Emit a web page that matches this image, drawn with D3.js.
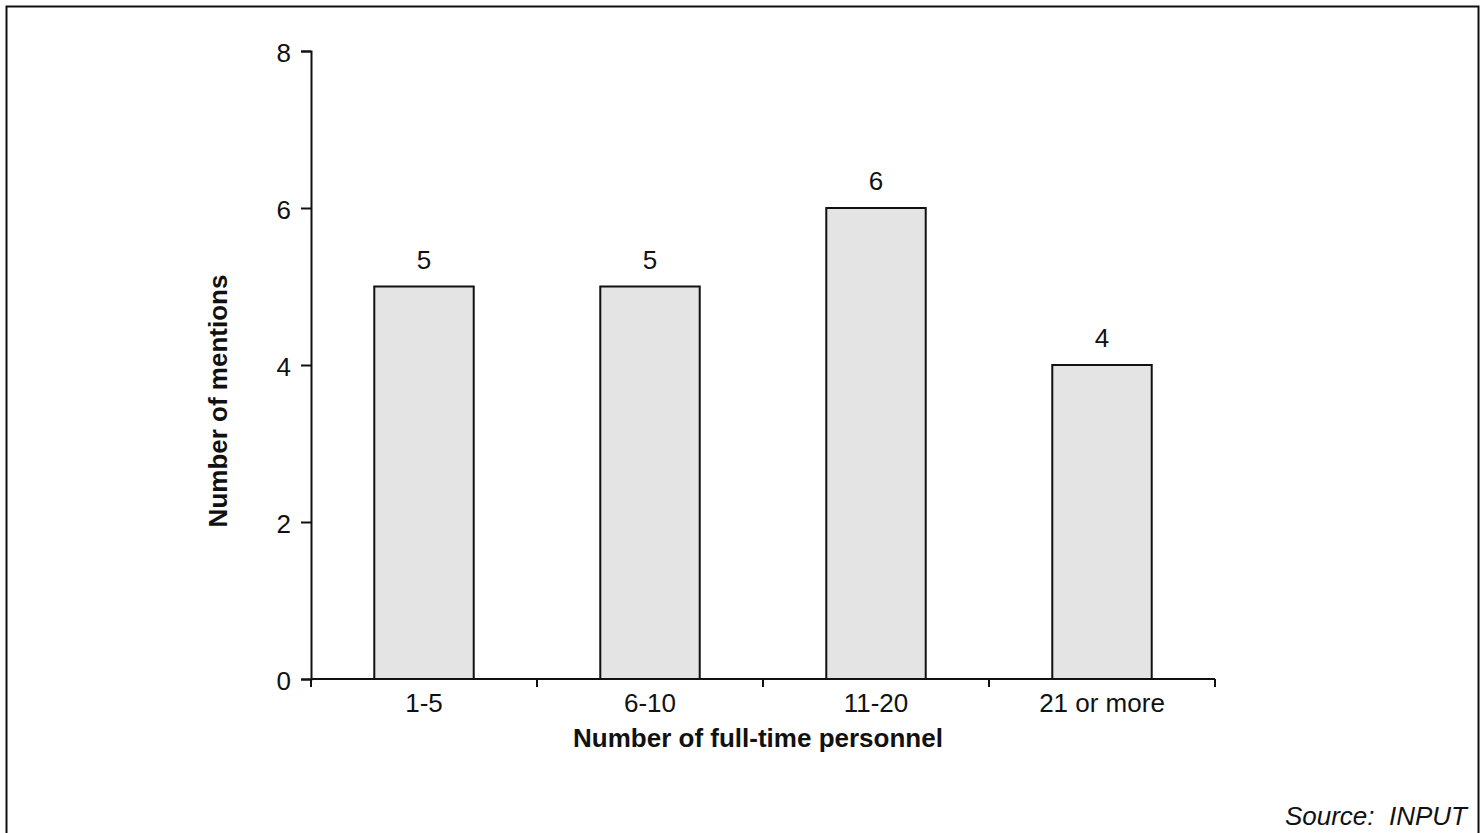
<!DOCTYPE html>
<html>
<head>
<meta charset="utf-8">
<script src="https://cdn.jsdelivr.net/npm/d3@7"></script>
<style>
  body { margin: 0; background: #fff; }
  svg { display: block; font-family: 'Liberation Sans', Arial, sans-serif; }
</style>
</head>
<body>
<svg id="chart" width="1483" height="833"></svg>
<script>
const categories = ['1-5', '6-10', '11-20', '21 or more']
const mentions = [5, 5, 6, 4]
const yTicks = [0, 2, 4, 6, 8]

const svg = d3.select('#chart')
const margins = { top: 51, left: 311, right: 268, bottom: 154 }
const width = 1483
const height = 833
const fontSize = '26px'

// frame round the whole chart
svg.append('rect')
  .attr('x', 6.5).attr('y', 6.5)
  .attr('width', 1472).attr('height', 840)
  .attr('fill', 'none').attr('stroke', '#111').attr('stroke-width', 2)

const x = d3.scaleBand()
  .domain(categories)
  .range([margins.left, width - margins.right])
  .paddingInner(0.56)
  .paddingOuter(0.28)

const y = d3.scaleLinear()
  .domain([0, 8])
  .range([height - margins.bottom, margins.top])

// bars
svg.append('g').selectAll('rect')
  .data(mentions)
  .join('rect')
  .attr('x', (d, i) => x(categories[i]))
  .attr('y', d => y(d))
  .attr('width', x.bandwidth())
  .attr('height', d => y(0) - y(d))
  .attr('fill', '#e4e4e4')
  .attr('stroke', '#111')
  .attr('stroke-width', 2)

// value labels
svg.append('g').selectAll('text')
  .data(mentions)
  .join('text')
  .attr('x', (d, i) => x(categories[i]) + x.bandwidth() / 2)
  .attr('y', d => y(d) - 18)
  .attr('text-anchor', 'middle')
  .style('font-size', fontSize)
  .attr('fill', '#111')
  .text(d => d)

// y axis
const yAxis = d3.axisLeft(y)
  .tickValues(yTicks)
  .tickSize(10)
  .tickPadding(10)
  .tickFormat(d3.format('d'))

const gy = svg.append('g')
  .attr('transform', `translate(${margins.left}, 0)`)
  .call(yAxis)
gy.select('.domain').attr('stroke', '#111').attr('stroke-width', 2)
gy.selectAll('.tick line').attr('stroke', '#111').attr('stroke-width', 2)
gy.selectAll('.tick text').style('font-size', fontSize).attr('fill', '#111')
  .attr('dy', '0.4em')
  .style('font-family', "'Liberation Sans', Arial, sans-serif")

// x axis: ticks sit between categories
const step = x.step()
const xEdges = d3.range(categories.length + 1).map(i => margins.left + i * step)
const xAxisG = svg.append('g')
xAxisG.append('line')
  .attr('x1', margins.left).attr('x2', width - margins.right)
  .attr('y1', y(0)).attr('y2', y(0))
  .attr('stroke', '#111').attr('stroke-width', 2)
xAxisG.selectAll('line.tick')
  .data(xEdges)
  .join('line')
  .attr('class', 'tick')
  .attr('x1', d => d).attr('x2', d => d)
  .attr('y1', y(0)).attr('y2', y(0) + 8)
  .attr('stroke', '#111').attr('stroke-width', 2)
xAxisG.selectAll('text')
  .data(categories)
  .join('text')
  .attr('x', d => x(d) + x.bandwidth() / 2)
  .attr('y', 712)
  .attr('text-anchor', 'middle')
  .style('font-size', fontSize)
  .attr('fill', '#111')
  .text(d => d)

// axis titles
svg.append('text')
  .attr('x', 758)
  .attr('y', 747)
  .attr('text-anchor', 'middle')
  .style('font-size', fontSize)
  .style('font-weight', 'bold')
  .attr('fill', '#111')
  .text('Number of full-time personnel')

svg.append('text')
  .attr('transform', 'translate(227, 401) rotate(-90)')
  .attr('text-anchor', 'middle')
  .style('font-size', fontSize)
  .style('font-weight', 'bold')
  .attr('fill', '#111')
  .text('Number of mentions')

svg.append('text')
  .attr('x', 1467)
  .attr('y', 825)
  .attr('text-anchor', 'end')
  .style('font-size', fontSize)
  .style('font-style', 'italic')
  .style('white-space', 'pre')
  .attr('fill', '#111')
  .text('Source:  INPUT')
</script>
</body>
</html>
